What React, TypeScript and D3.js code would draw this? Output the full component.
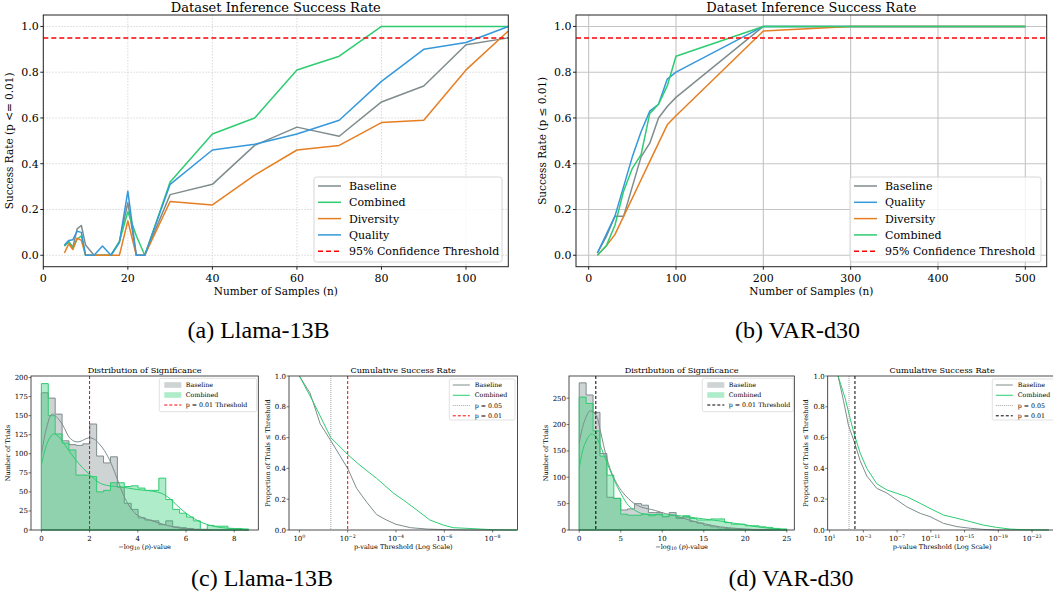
import * as d3 from 'd3';
import React from 'react';

// ---------- data: top row, success rate vs number of samples ----------
const llamaN = [5, 6, 7, 8, 9, 10, 12, 14, 16, 18, 20, 22, 24, 30, 40, 50, 60, 70, 80, 90, 100, 110];
const llamaBaseline = [0.04, 0.06, 0.035, 0.115, 0.13, 0.045, 0, 0, 0, 0.06, 0.23, 0, 0, 0.265, 0.31, 0.48, 0.56, 0.52, 0.67, 0.74, 0.92, 0.95];
const llamaCombined = [0.04, 0.06, 0.03, 0.07, 0.085, 0, 0, 0, 0, 0.06, 0.19, 0.085, 0, 0.32, 0.53, 0.6, 0.81, 0.87, 1.0, 1.0, 1.0, 1.0];
const llamaDiversity = [0.01, 0.05, 0.025, 0.075, 0.065, 0, 0, 0, 0, 0, 0.15, 0, 0, 0.235, 0.22, 0.35, 0.46, 0.48, 0.58, 0.59, 0.81, 0.98];
const llamaQuality = [0.045, 0.065, 0.068, 0.105, 0.1, 0, 0, 0.04, 0, 0.055, 0.28, 0, 0, 0.31, 0.46, 0.485, 0.53, 0.59, 0.76, 0.9, 0.93, 1.0];

const varN = [10, 20, 30, 40, 50, 60, 70, 80, 90, 100, 200, 300, 400, 500];
const varBaseline = [0.01, 0.08, 0.17, 0.17, 0.3, 0.43, 0.49, 0.6, 0.65, 0.69, 1.0, 1.0, 1.0, 1.0];
const varQuality = [0.01, 0.09, 0.17, 0.3, 0.43, 0.54, 0.63, 0.66, 0.77, 0.8, 1.0, 1.0, 1.0, 1.0];
const varDiversity = [0, 0.04, 0.09, 0.17, 0.25, 0.33, 0.41, 0.49, 0.57, 0.61, 0.98, 1.0, 1.0, 1.0];
const varCombined = [0, 0.04, 0.13, 0.28, 0.38, 0.44, 0.62, 0.66, 0.74, 0.87, 1.0, 1.0, 1.0, 1.0];

const threshold = 0.95;
const llamaXTicks = [0, 20, 40, 60, 80, 100];
const varXTicks = [0, 100, 200, 300, 400, 500];
const rateYTicks = [0, 0.2, 0.4, 0.6, 0.8, 1.0];

// ---------- data: bottom row, histograms of -log10(p) ----------
const llamaBinWidth = 0.2867;
const llamaHistBaseline = [180, 173, 152, 117, 112, 111, 113, 139, 97, 88, 96, 56, 35, 27, 16, 13, 12, 7, 12, 4, 3, 2, 1, 1, 0, 0, 0, 0, 0, 0];
const llamaHistCombined = [192, 150, 126, 114, 105, 72, 72, 70, 50, 52, 62, 62, 57, 58, 55, 52, 52, 68, 40, 27, 22, 17, 12, 0, 6, 5, 5, 2, 2, 1];
const llamaKdeBaseX = [0, 0.2, 0.44, 0.7, 0.9, 1.17, 1.4, 1.6, 1.8, 2.0, 2.2, 2.4, 2.62, 2.9, 3.17, 3.45, 3.72, 4.0, 4.3, 4.6, 5.0, 5.5, 6.0, 6.5, 7.0];
const llamaKdeBaseY = [98, 132, 152, 146, 137, 121, 116, 116, 119, 121, 119, 113, 104, 87, 65, 43, 28, 19, 15, 12, 8, 4, 1.5, 0.4, 0];
const llamaKdeCombX = [0, 0.15, 0.3, 0.5, 0.7, 0.9, 1.1, 1.4, 1.7, 2.0, 2.4, 2.8, 3.2, 3.6, 4.0, 4.6, 5.0, 5.3, 5.6, 6.0, 6.5, 7.0, 7.5, 8.0, 8.6];
const llamaKdeCombY = [85, 105, 118, 126, 123, 115, 106, 93, 82, 73, 62, 58, 57, 55, 53, 51, 48, 42, 33, 22, 12, 6, 3, 2, 1];

const varBinWidth = 0.8333;
const varHistBaseline = [279, 256, 223, 145, 62, 60, 38, 40, 50, 47, 33, 33, 25, 33, 22, 25, 16, 13, 9, 6, 4, 3, 2, 1, 1, 0, 0, 0, 0, 0];
const varHistCombined = [252, 240, 188, 140, 104, 60, 30, 28, 28, 30, 27, 30, 26, 28, 24, 27, 22, 19, 19, 21, 21, 14, 11, 11, 8, 8, 6, 5, 3, 2];
const varKdeBaseX = [0, 0.6, 1.33, 2.05, 2.53, 3.34, 4.14, 5.06, 5.95, 6.75, 7.55, 8.36, 9.16, 10.4, 11.6, 13, 15, 17, 19, 21, 23];
const varKdeBaseY = [165, 205, 226, 217, 189, 135, 100, 75, 59, 49, 43, 40, 37, 31, 27, 20, 12, 6, 3, 1, 0];
const varKdeCombX = [0, 0.6, 1.45, 2.05, 2.53, 3.34, 4.14, 5.06, 5.95, 6.75, 7.55, 9.16, 11.6, 13, 15, 17, 19, 20, 21, 22, 23, 24, 25];
const varKdeCombY = [116, 160, 182, 176, 160, 128, 97, 68, 46, 37, 31, 29, 28, 25, 21, 17, 12, 10, 7, 5, 3, 1.5, 0.5];

// ---------- data: cumulative success (x = -log10 p threshold) ----------
const llamaCumBaseX = [0, 0.44, 0.86, 1.3, 2.0, 2.37, 2.79, 3.2, 3.6, 4.0, 4.6, 5.3, 6.1, 7.0, 9.0];
const llamaCumBaseY = [1.0, 0.89, 0.69, 0.58, 0.4, 0.27, 0.18, 0.1, 0.065, 0.037, 0.015, 0.006, 0.002, 0, 0];
const llamaCumCombX = [0, 0.58, 0.86, 1.3, 2.0, 2.51, 3.2, 3.89, 4.3, 4.86, 5.4, 5.96, 6.37, 6.9, 7.5, 8.0, 9.0];
const llamaCumCombY = [1.0, 0.83, 0.74, 0.6, 0.49, 0.42, 0.335, 0.24, 0.195, 0.13, 0.065, 0.032, 0.015, 0.011, 0.006, 0.002, 0];
const varCumBaseX = [0, 0.64, 1.23, 1.94, 2.62, 3.41, 4.6, 5.79, 6.97, 8.16, 9.74, 10.9, 12.5, 14.1, 15.7, 17.2, 18.8, 25];
const varCumBaseY = [1.0, 0.84, 0.68, 0.57, 0.45, 0.35, 0.27, 0.24, 0.195, 0.15, 0.108, 0.087, 0.043, 0.022, 0.011, 0.004, 0, 0];
const varCumCombX = [0, 0.84, 1.43, 1.94, 2.62, 3.41, 4.6, 5.79, 6.97, 8.16, 9.74, 10.9, 12.5, 14.1, 15.7, 17.2, 18.8, 20.4, 22, 25];
const varCumCombY = [1.0, 0.855, 0.725, 0.617, 0.5, 0.4, 0.3, 0.26, 0.238, 0.216, 0.173, 0.14, 0.097, 0.076, 0.054, 0.032, 0.017, 0.006, 0.002, 0];

const pCut05 = 1.301;
const pCut01 = 2;

// ---------- style ----------
const FONT = 'DejaVu Serif';
const COL = { gray: '#7f8c8d', green: '#2ecc71', orange: '#e67e22', blue: '#3498db', red: '#ff0000' };
const AXIS = '#222';

// panel frames in page pixels
const boxA = { l: 43.3, r: 508.3, t: 15, b: 266.7 };
const boxB = { l: 576, r: 1046.7, t: 15, b: 266.7 };
const boxC1 = { l: 31, r: 258.3, t: 376, b: 530 };
const boxC2 = { l: 289, r: 517.5, t: 376, b: 530 };
const boxD1 = { l: 569, r: 794.3, t: 376, b: 530 };
const boxD2 = { l: 827.7, r: 1056.5, t: 376, b: 530 };

function SuccessPanel({ box, xDomain, xTicks, xs, series, ylabel, solidGrid, legend }) {
  const x = d3.scaleLinear().domain(xDomain).range([box.l, box.r]);
  const y = d3.scaleLinear().domain([-0.05, 1.05]).range([box.b, box.t]);
  const line = d3.line().x((d, i) => x(xs[i])).y(d => y(d));
  const cx = (box.l + box.r) / 2;
  const gridStroke = solidGrid ? { stroke: '#c4c4c4', strokeWidth: 1.1 } : { stroke: '#cfcfcf', strokeWidth: 0.8, strokeDasharray: '1.5,1.5' };
  return (
    <g fontFamily={FONT}>
      {xTicks.map(t => <line key={'gx' + t} x1={x(t)} x2={x(t)} y1={box.t} y2={box.b} {...gridStroke} />)}
      {rateYTicks.map(t => <line key={'gy' + t} x1={box.l} x2={box.r} y1={y(t)} y2={y(t)} {...gridStroke} />)}
      {series.map(s => (
        <path key={s.name} d={line(s.values)} fill="none" stroke={s.color} strokeWidth={1.5} strokeLinejoin="round" />
      ))}
      <line x1={box.l} x2={box.r} y1={y(threshold)} y2={y(threshold)} stroke={COL.red} strokeWidth={1.5} strokeDasharray="5,3" />
      <rect x={box.l} y={box.t} width={box.r - box.l} height={box.b - box.t} fill="none" stroke={AXIS} strokeWidth={1} />
      {xTicks.map(t => (
        <g key={'tx' + t}>
          <line x1={x(t)} x2={x(t)} y1={box.b} y2={box.b + 3} stroke={AXIS} />
          <text x={x(t)} y={box.b + 15.5} fontSize={11} textAnchor="middle">{t}</text>
        </g>
      ))}
      {rateYTicks.map(t => (
        <g key={'ty' + t}>
          <line x1={box.l} x2={box.l - 3} y1={y(t)} y2={y(t)} stroke={AXIS} />
          <text x={box.l - 4.5} y={y(t) + 4} fontSize={11} textAnchor="end">{t.toFixed(1)}</text>
        </g>
      ))}
      <text x={cx} y={11.5} fontSize={13} textAnchor="middle">Dataset Inference Success Rate</text>
      <text x={cx} y={294.5} fontSize={10.5} textAnchor="middle">Number of Samples (n)</text>
      <text transform={`translate(${box.l - 30.5},${(box.t + box.b) / 2}) rotate(-90)`} fontSize={10.5} textAnchor="middle">{ylabel}</text>
      <rect x={legend.x} y={177} width={legend.w} height={85} rx={2.5} fill="#fff" fillOpacity={0.8} stroke="#cccccc" strokeWidth={0.8} />
      {[...series.map(s => ({ name: s.name, color: s.color, dash: null })), { name: '95% Confidence Threshold', color: COL.red, dash: '5,3' }].map((e, i) => {
        const ey = 186 + i * 16.3;
        return (
          <g key={'lg' + e.name}>
            <line x1={legend.x + 4} x2={legend.x + 27} y1={ey} y2={ey} stroke={e.color} strokeWidth={1.5} strokeDasharray={e.dash || undefined} />
            <text x={legend.x + 35} y={ey + 4} fontSize={11}>{e.name}</text>
          </g>
        );
      })}
    </g>
  );
}

function HistPanel({ box, xDomain, yMax, xTicks, yTicks, binWidth, base, comb, kdeBase, kdeComb, cutColor, legendX, legendW }) {
  const x = d3.scaleLinear().domain(xDomain).range([box.l, box.r]);
  const y = d3.scaleLinear().domain([0, yMax]).range([box.b, box.t]);
  const step = counts => {
    let p = `M${x(0)},${y(0)}`;
    counts.forEach((c, i) => { p += `L${x(i * binWidth)},${y(c)}L${x((i + 1) * binWidth)},${y(c)}`; });
    return p + `L${x(counts.length * binWidth)},${y(0)}Z`;
  };
  const kde = d3.line().curve(d3.curveCatmullRom).x(d => x(d[0])).y(d => y(d[1]));
  const cx = (box.l + box.r) / 2;
  return (
    <g fontFamily={FONT}>
      <path d={step(base)} fill={COL.gray} fillOpacity={0.38} stroke={COL.gray} strokeWidth={1} />
      <path d={step(comb)} fill={COL.green} fillOpacity={0.38} stroke={COL.green} strokeWidth={1} />
      <path d={kde(kdeBase)} fill="none" stroke={COL.gray} strokeWidth={1} />
      <path d={kde(kdeComb)} fill="none" stroke={COL.green} strokeWidth={1} />
      <line x1={x(pCut01)} x2={x(pCut01)} y1={box.t} y2={box.b} stroke={cutColor} strokeWidth={1} strokeDasharray="3,2" />
      <rect x={box.l} y={box.t} width={box.r - box.l} height={box.b - box.t} fill="none" stroke={AXIS} strokeWidth={0.8} />
      {xTicks.map(t => (
        <g key={'tx' + t}>
          <line x1={x(t)} x2={x(t)} y1={box.b} y2={box.b + 2.5} stroke={AXIS} strokeWidth={0.6} />
          <text x={x(t)} y={540.5} fontSize={7} textAnchor="middle">{t}</text>
        </g>
      ))}
      {yTicks.map(t => (
        <g key={'ty' + t}>
          <line x1={box.l} x2={box.l - 2.5} y1={y(t)} y2={y(t)} stroke={AXIS} strokeWidth={0.6} />
          <text x={box.l - 3} y={y(t) + 2.5} fontSize={7} textAnchor="end">{t}</text>
        </g>
      ))}
      <text x={cx} y={373} fontSize={8.2} textAnchor="middle">Distribution of Significance</text>
      <text x={cx} y={548.5} fontSize={6.5} textAnchor="middle">
        <tspan>−log</tspan><tspan fontSize={4.6} dy={1.5}>10</tspan><tspan dy={-1.5}> (</tspan><tspan fontStyle="italic">p</tspan><tspan>)-value</tspan>
      </text>
      <text transform={`translate(${box.l - 21.5},${(box.t + box.b) / 2}) rotate(-90)`} fontSize={6.5} textAnchor="middle">Number of Trials</text>
      <rect x={legendX} y={378.3} width={legendW} height={33.4} rx={1.5} fill="#fff" fillOpacity={0.8} stroke="#cccccc" strokeWidth={0.6} />
      {[
        { name: 'Baseline', color: COL.gray, patch: true },
        { name: 'Combined', color: COL.green, patch: true },
        { name: 'p = 0.01 Threshold', color: cutColor, patch: false },
      ].map((e, i) => {
        const ey = 385 + i * 10;
        return (
          <g key={'lg' + e.name}>
            {e.patch
              ? <rect x={legendX + 5} y={ey - 2.8} width={17} height={5.6} fill={e.color} fillOpacity={0.38} />
              : <line x1={legendX + 5} x2={legendX + 22} y1={ey} y2={ey} stroke={e.color} strokeWidth={1} strokeDasharray="3,2" />}
            <text x={legendX + 26.5} y={ey + 2.2} fontSize={6.3}>{e.name}</text>
          </g>
        );
      })}
    </g>
  );
}

function CumPanel({ box, xDomain, xTicks, baseX, baseY, combX, combY, cutColor, legendX, legendW }) {
  const x = d3.scaleLinear().domain(xDomain).range([box.l, box.r]);
  const y = d3.scaleLinear().domain([0, 1]).range([box.b, box.t]);
  const line = (xs, ys) => d3.line().x((d, i) => x(xs[i])).y(d => y(d))(ys);
  const cx = (box.l + box.r) / 2;
  const expLabel = v => (v === 0 ? '0' : v < 0 ? String(-v) : '−' + v);
  return (
    <g fontFamily={FONT}>
      <path d={line(baseX, baseY)} fill="none" stroke={COL.gray} strokeWidth={1} />
      <path d={line(combX, combY)} fill="none" stroke={COL.green} strokeWidth={1} />
      <line x1={x(pCut05)} x2={x(pCut05)} y1={box.t} y2={box.b} stroke="#808080" strokeWidth={0.7} strokeDasharray="1,1" />
      <line x1={x(pCut01)} x2={x(pCut01)} y1={box.t} y2={box.b} stroke={cutColor} strokeWidth={1} strokeDasharray="3,2" />
      <rect x={box.l} y={box.t} width={box.r - box.l} height={box.b - box.t} fill="none" stroke={AXIS} strokeWidth={0.8} />
      {xTicks.map(t => (
        <g key={'tx' + t}>
          <line x1={x(t)} x2={x(t)} y1={box.b} y2={box.b + 2.5} stroke={AXIS} strokeWidth={0.6} />
          <text x={x(t)} y={541} fontSize={7} textAnchor="middle">
            <tspan>10</tspan><tspan fontSize={4.8} dy={-3}>{expLabel(t)}</tspan>
          </text>
        </g>
      ))}
      {rateYTicks.map(t => (
        <g key={'ty' + t}>
          <line x1={box.l} x2={box.l - 2.5} y1={y(t)} y2={y(t)} stroke={AXIS} strokeWidth={0.6} />
          <text x={box.l - 3} y={y(t) + 2.5} fontSize={7} textAnchor="end">{t.toFixed(1)}</text>
        </g>
      ))}
      <text x={cx} y={373} fontSize={8.2} textAnchor="middle">Cumulative Success Rate</text>
      <text x={cx} y={548.5} fontSize={6.5} textAnchor="middle">p-value Threshold (Log Scale)</text>
      <text transform={`translate(${box.l - 19.5},${(box.t + box.b) / 2}) rotate(-90)`} fontSize={6.5} textAnchor="middle">Proportion of Trials ≤ Threshold</text>
      <rect x={legendX} y={379} width={legendW} height={41} rx={1.5} fill="#fff" fillOpacity={0.8} stroke="#cccccc" strokeWidth={0.6} />
      {[
        { name: 'Baseline', color: COL.gray, dash: null, w: 1 },
        { name: 'Combined', color: COL.green, dash: null, w: 1 },
        { name: 'p = 0.05', color: '#808080', dash: '1,1', w: 0.7 },
        { name: 'p = 0.01', color: cutColor, dash: '3,2', w: 1 },
      ].map((e, i) => {
        const ey = 385 + i * 10.27;
        return (
          <g key={'lg' + e.name}>
            <line x1={legendX + 3.5} x2={legendX + 20.5} y1={ey} y2={ey} stroke={e.color} strokeWidth={e.w} strokeDasharray={e.dash || undefined} />
            <text x={legendX + 25.5} y={ey + 2.2} fontSize={6.3}>{e.name}</text>
          </g>
        );
      })}
    </g>
  );
}

const pairs = (xs, ys) => xs.map((v, i) => [v, ys[i]]);

export default function App() {
  return (
    <svg width={1053} height={596} style={{ position: 'absolute', left: 0, top: 0, background: '#fff' }}>
      <rect width={1053} height={596} fill="#fff" />
      <SuccessPanel
        box={boxA}
        xDomain={[0, 110]}
        xTicks={llamaXTicks}
        xs={llamaN}
        ylabel="Success Rate (p <= 0.01)"
        solidGrid={false}
        legend={{ x: 314, w: 188 }}
        series={[
          { name: 'Baseline', color: COL.gray, values: llamaBaseline },
          { name: 'Combined', color: COL.green, values: llamaCombined },
          { name: 'Diversity', color: COL.orange, values: llamaDiversity },
          { name: 'Quality', color: COL.blue, values: llamaQuality },
        ]}
      />
      <SuccessPanel
        box={boxB}
        xDomain={[-14.5, 524.5]}
        xTicks={varXTicks}
        xs={varN}
        ylabel="Success Rate (p ≤ 0.01)"
        solidGrid={true}
        legend={{ x: 850, w: 191 }}
        series={[
          { name: 'Baseline', color: COL.gray, values: varBaseline },
          { name: 'Quality', color: COL.blue, values: varQuality },
          { name: 'Diversity', color: COL.orange, values: varDiversity },
          { name: 'Combined', color: COL.green, values: varCombined },
        ]}
      />
      <HistPanel
        box={boxC1}
        xDomain={[-0.43, 9.0]}
        yMax={202}
        xTicks={[0, 2, 4, 6, 8]}
        yTicks={[0, 25, 50, 75, 100, 125, 150, 175, 200]}
        binWidth={llamaBinWidth}
        base={llamaHistBaseline}
        comb={llamaHistCombined}
        kdeBase={pairs(llamaKdeBaseX, llamaKdeBaseY)}
        kdeComb={pairs(llamaKdeCombX, llamaKdeCombY)}
        cutColor={COL.red}
        legendX={159.3}
        legendW={97.4}
      />
      <CumPanel
        box={boxC2}
        xDomain={[-0.43, 9.03]}
        xTicks={[0, 2, 4, 6, 8]}
        baseX={llamaCumBaseX}
        baseY={llamaCumBaseY}
        combX={llamaCumCombX}
        combY={llamaCumCombY}
        cutColor={COL.red}
        legendX={449.3}
        legendW={65.7}
      />
      <HistPanel
        box={boxD1}
        xDomain={[-1.23, 25.9]}
        yMax={292}
        xTicks={[0, 5, 10, 15, 20, 25]}
        yTicks={[0, 50, 100, 150, 200, 250]}
        binWidth={varBinWidth}
        base={varHistBaseline}
        comb={varHistCombined}
        kdeBase={pairs(varKdeBaseX, varKdeBaseY)}
        kdeComb={pairs(varKdeCombX, varKdeCombY)}
        cutColor="#000"
        legendX={702.3}
        legendW={91}
      />
      <CumPanel
        box={boxD2}
        xDomain={[-1.23, 25.9]}
        xTicks={[-1, 3, 7, 11, 15, 19, 23]}
        baseX={varCumBaseX}
        baseY={varCumBaseY}
        combX={varCumCombX}
        combY={varCumCombY}
        cutColor="#000"
        legendX={992.3}
        legendW={62}
      />
      <g fontFamily="Liberation Serif" fontSize={24} textAnchor="middle">
        <text x={258.5} y={338}>(a) Llama-13B</text>
        <text x={797.5} y={338}>(b) VAR-d30</text>
        <text x={262} y={586}>(c) Llama-13B</text>
        <text x={791} y={586}>(d) VAR-d30</text>
      </g>
    </svg>
  );
}
